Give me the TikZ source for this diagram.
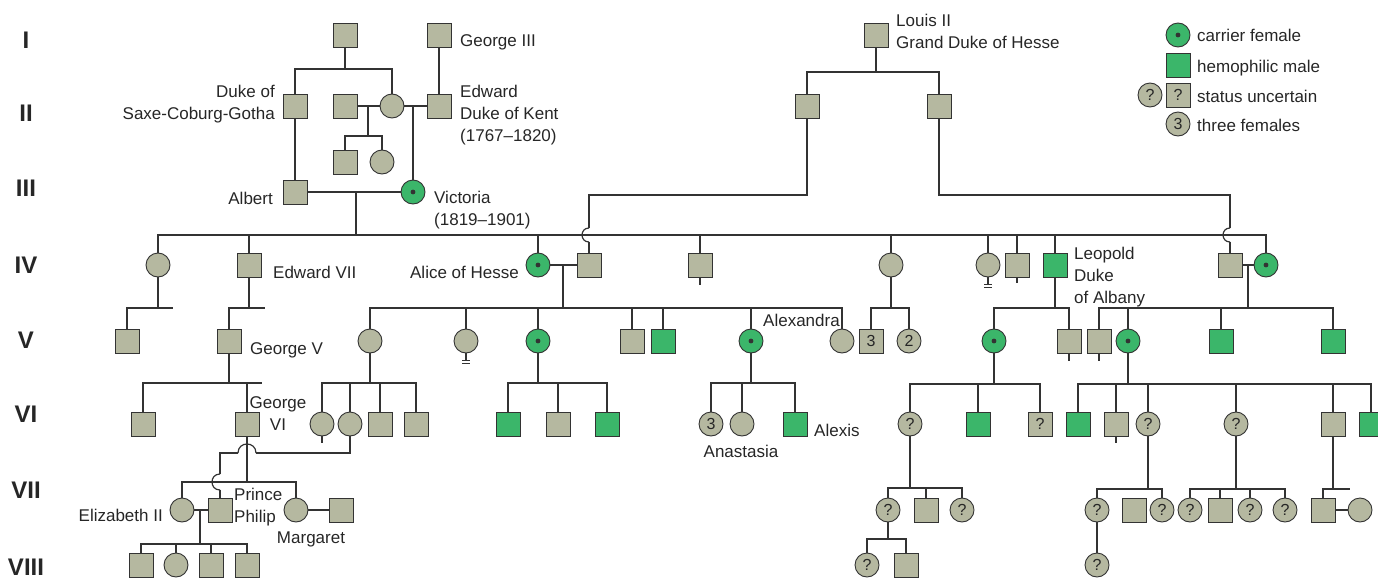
\documentclass[tikz,border=0pt]{standalone}
\usepackage{fontspec}
\setmainfont{Liberation Sans}
\definecolor{kin}{HTML}{B5B8A0}
\definecolor{affected}{HTML}{3BB66A}
\definecolor{outl}{HTML}{333333}
\definecolor{txt}{HTML}{262626}

\begin{document}
\begin{tikzpicture}[
  x=1pt, y=-1pt,
  font=\fontsize{17}{22}\selectfont,
  ind/.style={draw=outl, line width=0.9pt, fill=kin, inner sep=0pt,
    minimum size=24pt, text=txt, font=\fontsize{16}{16}\selectfont},
  male/.style={ind, rectangle},
  female/.style={ind, circle},
  hemo/.style={male, fill=affected},
  carrier/.style={female, fill=affected,
    path picture={\fill[outl] (path picture bounding box.center) circle (2.4pt);}},
  ln/.style={draw=outl, line width=1.2pt},
  lbl/.style={inner sep=0pt, text=txt},
  gen/.style={inner sep=0pt, text=txt, font=\fontsize{24}{24}\selectfont\bfseries}
]
\useasboundingbox (0,0) rectangle (1378,578);

% ── Generation numerals ─────────────────────────────────────────────────
\foreach \g/\y in {I/40, II/113, III/188, IV/265, V/340, VI/414, VII/490, VIII/567}
  \node[gen] (gen\g) at (26,\y) {\g};

% ── Generations I--III: Victoria and her parents ────────────────────────
\node[male] (i1) at (345,35) {};
\node[male] (geo3) at (439,35) {};
\node[male] (louis) at (876,35) {};
\node[male] (saxe) at (295,106) {};
\node[male] (ii2) at (345,106) {};
\node[female] (vmom) at (392,106) {};
\node[male] (kent) at (439,106) {};
\node[male] (hes1) at (807,106) {};
\node[male] (hes2) at (939,106) {};
\node[male] (hs1) at (345,162) {};
\node[female] (hs2) at (382,162) {};
\node[male] (albert) at (295,192) {};
\node[carrier] (victoria) at (413,192) {};

\node[lbl, anchor=base west] (geo3lbl) at (460,47) {George III};
\node[lbl, anchor=north west, align=left] (louislbl) at (896,13.5) {Louis II\\Grand Duke of Hesse};
\node[lbl, anchor=north east, align=right] (saxelbl) at (275,84.5) {Duke of\\Saxe-Coburg-Gotha};
\node[lbl, anchor=north west, align=left] (kentlbl) at (460,84.5) {Edward\\Duke of Kent\\(1767--1820)};
\node[lbl, anchor=base east] (albertlbl) at (273,204) {Albert};
\node[lbl, anchor=north west, align=left] (viclbl) at (434,190.5) {Victoria\\(1819--1901)};

\coordinate (s1) at (345,69);
\draw[ln] (i1) -- (s1);
\draw[ln] (saxe) |- (s1) -| (vmom);
\draw[ln] (geo3) -- (kent);
\draw[ln] (ii2) -- (vmom);
\coordinate (m1) at (368,106);
\coordinate (s2) at (368,136);
\draw[ln] (m1) -- (s2);
\draw[ln] (hs1) |- (s2) -| (hs2);
\draw[ln] (vmom) -- (kent);
\draw[ln] (victoria) -- (victoria |- kent);
\draw[ln] (saxe) -- (albert);
\draw[ln] (albert) -- (victoria);
\coordinate (s4) at (876,72);
\draw[ln] (louis) -- (s4);
\draw[ln] (hes1) |- (s4) -| (hes2);

% ── Generation IV: Victoria's children ──────────────────────────────────
\node[female] (iv1) at (158,265) {};
\node[male] (edw7) at (249,265) {};
\node[carrier] (alice) at (538,265) {};
\node[male] (ludwig) at (589,265) {};
\node[male] (iv4) at (700,265) {};
\node[female] (iv5) at (891,265) {};
\node[female] (iv6) at (988,265) {};
\node[male] (iv7) at (1017,265) {};
\node[hemo] (leopold) at (1055,265) {};
\node[male] (henry) at (1230,265) {};
\node[carrier] (beatrice) at (1266,265) {};

\node[lbl, anchor=base west] (edw7lbl) at (273,278) {Edward VII};
\node[lbl, anchor=base east] (alicelbl) at (519,278) {Alice of Hesse};
\node[lbl, anchor=north west, align=left] (leolbl) at (1074,246.5) {Leopold\\Duke\\of Albany};

\coordinate (m2) at (356,192);
\coordinate (s3) at (356,235);
\draw[ln] (m2) -- (s3);
\draw[ln] (iv1) |- (s3) -| (beatrice);
\foreach \c in {edw7,alice,iv4,iv5,iv6,iv7,leopold}
  \draw[ln] (\c) -- (\c |- s3);
% sons of Louis II hop over the sibship line
\coordinate (h1a) at (589,228);
\coordinate (h1b) at (589,242);
\draw[ln] (hes1) |- (589,195) -- (h1a);
\draw[ln] (h1a) .. controls (579.7,228) and (579.7,242) .. (h1b);
\draw[ln] (h1b) -- (ludwig);
\coordinate (h2a) at (1230,228);
\coordinate (h2b) at (1230,242);
\draw[ln] (hes2) |- (1230,195) -- (h2a);
\draw[ln] (h2a) .. controls (1220.7,228) and (1220.7,242) .. (h2b);
\draw[ln] (h2b) -- (henry);

% ── Generation V ────────────────────────────────────────────────────────
\node[male] (v1) at (127,341) {};
\node[male] (geo5) at (229,341) {};
\node[female] (v3) at (370,341) {};
\node[female] (v4) at (466,341) {};
\node[carrier] (v5) at (538,341) {};
\node[male] (v6) at (632,341) {};
\node[hemo] (v7) at (663,341) {};
\node[carrier] (alexandra) at (751,341) {};
\node[female] (v9) at (842,341) {};
\node[male] (v10) at (871,341) {3};
\node[female] (v11) at (909,341) {2};
\node[carrier] (v12) at (994,341) {};
\node[male] (v13) at (1069,341) {};
\node[male] (v14) at (1099,341) {};
\node[carrier] (v15) at (1128,341) {};
\node[hemo] (v16) at (1221,341) {};
\node[hemo] (v17) at (1333,341) {};

\node[lbl, anchor=base west] (geo5lbl) at (250,354) {George V};
\node[lbl, anchor=base west] (alexlbl) at (763,326) {Alexandra};

\coordinate (s5) at (173,308);
\draw[ln] (iv1) -- (iv1 |- s5);
\draw[ln] (v1) |- (s5);
\coordinate (s6) at (265,308);
\draw[ln] (edw7) -- (edw7 |- s6);
\draw[ln] (geo5) |- (s6);
\draw[ln] (alice) -- (ludwig);
\coordinate (m3) at (563,265);
\coordinate (s7) at (563,308);
\draw[ln] (m3) -- (s7);
\draw[ln] (v3) |- (s7) -| (v9);
\foreach \c in {v4,v5,v6,v7,alexandra}
  \draw[ln] (\c) -- (\c |- s7);
\draw[ln] (iv4.south) -- ++(0,8);
\coordinate (s8) at (891,308);
\draw[ln] (iv5) -- (s8);
\draw[ln] (v10) |- (s8) -| (v11);
\draw[ln] (iv6.south) -- ++(0,7) ++(-4,0) -- ++(8,0) ++(-8,3) -- ++(8,0);
\draw[ln] (iv7.south) -- ++(0,6);
\coordinate (s9) at (1055,308);
\draw[ln] (leopold) -- (s9);
\draw[ln] (v12) |- (s9) -| (v13);
\draw[ln] (henry) -- (beatrice);
\coordinate (m4) at (1248,265);
\coordinate (s10) at (1248,308);
\draw[ln] (m4) -- (s10);
\draw[ln] (v14) |- (s10) -| (v17);
\foreach \c in {v15,v16}
  \draw[ln] (\c) -- (\c |- s10);

% ── Generation VI ───────────────────────────────────────────────────────
\node[male] (vi1) at (143,424) {};
\node[male] (geo6) at (247,424) {};
\node[female] (vi3) at (322,424) {};
\node[female] (vi4) at (350,424) {};
\node[male] (vi5) at (380,424) {};
\node[male] (vi6) at (416,424) {};
\node[hemo] (vi7) at (508,424) {};
\node[male] (vi8) at (558,424) {};
\node[hemo] (vi9) at (607,424) {};
\node[female] (vi10) at (711,424) {3};
\node[female] (anastasia) at (742,424) {};
\node[hemo] (alexis) at (795,424) {};
\node[female] (vi13) at (910,424) {?};
\node[hemo] (vi14) at (978,424) {};
\node[male] (vi15) at (1040,424) {?};
\node[hemo] (vi16) at (1078,424) {};
\node[male] (vi17) at (1116,424) {};
\node[female] (vi18) at (1148,424) {?};
\node[female] (vi19) at (1236,424) {?};
\node[male] (vi20) at (1333,424) {};
\node[hemo] (vi21) at (1371,424) {};

\node[lbl, anchor=north, align=center] (geo6lbl) at (278,396.5) {George\\VI};
\node[lbl, anchor=base west] (alexislbl) at (814,436) {Alexis};
\node[lbl, anchor=base] (analbl) at (741,457) {Anastasia};

\coordinate (s11) at (262,383);
\draw[ln] (geo5) -- (geo5 |- s11);
\draw[ln] (vi1) |- (s11);
\draw[ln] (geo6) -- (geo6 |- s11);
\coordinate (s12) at (370,383);
\draw[ln] (v3) -- (s12);
\draw[ln] (vi3) |- (s12) -| (vi6);
\foreach \c in {vi4,vi5}
  \draw[ln] (\c) -- (\c |- s12);
\draw[ln] (v4.south) -- ++(0,7) ++(-4,0) -- ++(8,0) ++(-8,3) -- ++(8,0);
\coordinate (s13) at (538,383);
\draw[ln] (v5) -- (s13);
\draw[ln] (vi7) |- (s13) -| (vi9);
\draw[ln] (vi8) -- (vi8 |- s13);
\coordinate (s14) at (751,383);
\draw[ln] (alexandra) -- (s14);
\draw[ln] (vi10) |- (s14) -| (alexis);
\draw[ln] (anastasia) -- (anastasia |- s14);
\coordinate (s15) at (994,384);
\draw[ln] (v12) -- (s15);
\draw[ln] (vi13) |- (s15) -| (vi15);
\draw[ln] (vi14) -- (vi14 |- s15);
\draw[ln] (v13.south) -- ++(0,8);
\draw[ln] (v14.south) -- ++(0,8);
\coordinate (s16) at (1128,384);
\draw[ln] (v15) -- (s16);
\draw[ln] (vi16) |- (s16) -| (vi21);
\foreach \c in {vi17,vi18,vi19,vi20}
  \draw[ln] (\c) -- (\c |- s16);

% ── Generations VII--VIII ───────────────────────────────────────────────
\node[female] (eliz) at (182,510) {};
\node[male] (philip) at (220,510) {};
\node[female] (margaret) at (296,510) {};
\node[male] (vii4) at (341,510) {};
\node[female] (vii5) at (888,510) {?};
\node[male] (vii6) at (926,510) {};
\node[female] (vii7) at (962,510) {?};
\node[female] (vii8) at (1097,510) {?};
\node[male] (vii9) at (1134,510) {};
\node[female] (vii10) at (1162,510) {?};
\node[female] (vii11) at (1190,510) {?};
\node[male] (vii12) at (1220,510) {};
\node[female] (vii13) at (1250,510) {?};
\node[female] (vii14) at (1285,510) {?};
\node[male] (vii15) at (1323,510) {};
\node[female] (vii16) at (1360,510) {};

\node[male] (viii1) at (141,565) {};
\node[female] (viii2) at (176,565) {};
\node[male] (viii3) at (211,565) {};
\node[male] (viii4) at (247,565) {};
\node[female] (viii5) at (867,565) {?};
\node[male] (viii6) at (906,565) {};
\node[female] (viii7) at (1097,565) {?};

\node[lbl, anchor=base east] (elizlbl) at (163,521) {Elizabeth II};
\node[lbl, anchor=north west, align=left] (philiplbl) at (234,488) {Prince\\Philip};
\node[lbl, anchor=base] (marglbl) at (311,543) {Margaret};

\coordinate (s17) at (247,482);
\draw[ln] (geo6) -- (s17);
\draw[ln] (eliz) |- (s17) -| (margaret);
% Philip's line hops over George VI's descent and the sibship line
\coordinate (h3a) at (256,453);
\coordinate (h3b) at (238,453);
\coordinate (h4a) at (220,474);
\coordinate (h4b) at (220,490);
\draw[ln] (vi4) |- (h3a);
\draw[ln] (h3a) .. controls (256,441) and (238,441) .. (h3b);
\draw[ln] (h3b) -| (h4a);
\draw[ln] (h4a) .. controls (209.3,474) and (209.3,490) .. (h4b);
\draw[ln] (h4b) -- (philip);
\draw[ln] (vi3.south) -- ++(0,7);
\draw[ln] (vi17.south) -- ++(0,7);
\draw[ln] (eliz) -- (philip);
\coordinate (m5) at (200,510);
\coordinate (s18) at (200,544);
\draw[ln] (m5) -- (s18);
\draw[ln] (viii1) |- (s18) -| (viii4);
\foreach \c in {viii2,viii3}
  \draw[ln] (\c) -- (\c |- s18);
\draw[ln] (margaret) -- (vii4);
\coordinate (s19) at (910,488);
\draw[ln] (vi13) -- (s19);
\draw[ln] (vii5) |- (s19) -| (vii7);
\draw[ln] (vii6) -- (vii6 |- s19);
\coordinate (s20) at (888,539);
\draw[ln] (vii5) -- (s20);
\draw[ln] (viii5) |- (s20) -| (viii6);
\coordinate (s21) at (1148,489);
\draw[ln] (vi18) -- (s21);
\draw[ln] (vii8) |- (s21) -| (vii10);
\draw[ln] (vii8) -- (viii7);
\coordinate (s22) at (1236,489);
\draw[ln] (vi19) -- (s22);
\draw[ln] (vii11) |- (s22) -| (vii14);
\foreach \c in {vii12,vii13}
  \draw[ln] (\c) -- (\c |- s22);
\coordinate (s23) at (1350,489);
\draw[ln] (vi20) -- (vi20 |- s23);
\draw[ln] (vii15) |- (s23);
\draw[ln] (vii15) -- (vii16);

% ── Key ─────────────────────────────────────────────────────────────────
\node[carrier] (keyc) at (1178,35) {};
\node[hemo] (keyh) at (1178,65) {};
\node[female] (keyuf) at (1150,95) {?};
\node[male] (keyum) at (1178,95) {?};
\node[female] (keyt) at (1178,124) {3};
\node[lbl, anchor=base west] (keyctxt) at (1197,42) {carrier female};
\node[lbl, anchor=base west] (keyhtxt) at (1197,72) {hemophilic male};
\node[lbl, anchor=base west] (keyutxt) at (1197,102) {status uncertain};
\node[lbl, anchor=base west] (keyttxt) at (1197,131) {three females};

\end{tikzpicture}
\end{document}
